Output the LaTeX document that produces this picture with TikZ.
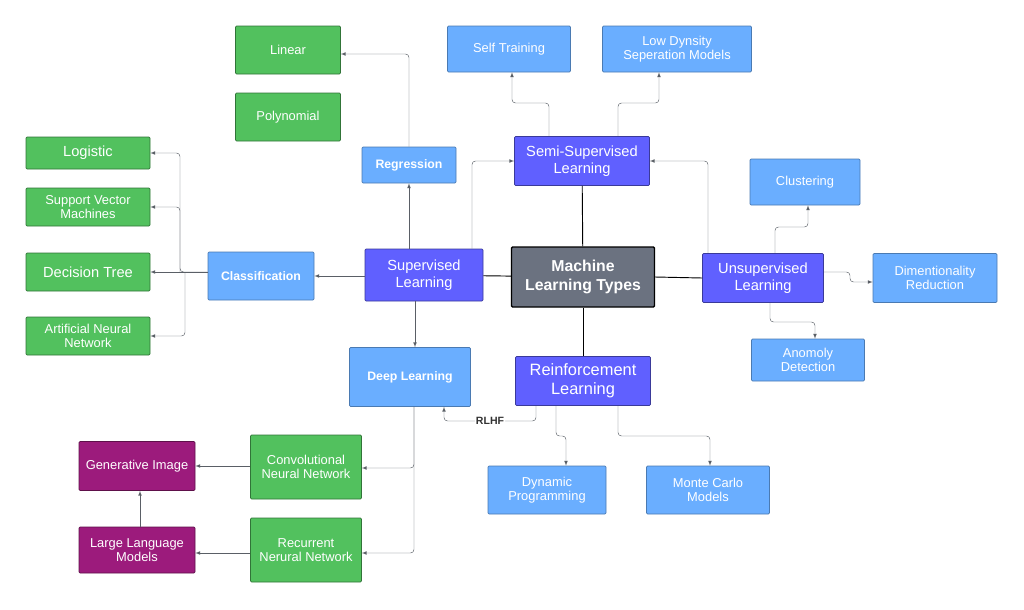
\documentclass[tikz,border=0pt]{standalone}
\usepackage{fontspec}
\setmainfont{Liberation Sans}
\usetikzlibrary{positioning}
\definecolor{leafgreen}{HTML}{52C15E}
\definecolor{leafblue}{HTML}{6AAEFF}
\definecolor{mainpurple}{HTML}{6060FF}
\definecolor{rootgray}{HTML}{6B7280}
\definecolor{genmagenta}{HTML}{9C1B7C}
\definecolor{linkgray}{HTML}{5A5F66}
\begin{document}
\begin{tikzpicture}[x=0.03cm, y=-0.03cm, -latex, semithick,
            box/.style ={rectangle, rounded corners=1pt, align=center, text=white, inner sep=1pt},
            leaf/.style ={box, fill=leafgreen, draw=leafgreen!60!black, font=\fontsize{11}{12.5}\selectfont},
            sub/.style ={box, fill=leafblue, draw=leafblue!70!black, font=\fontsize{11}{12.5}\selectfont},
            subb/.style ={sub, font=\bfseries\fontsize{10.5}{12.5}\selectfont},
            main/.style ={box, fill=mainpurple, draw=mainpurple!60!black, font=\fontsize{12.5}{14.5}\selectfont},
            gen/.style ={box, fill=genmagenta, draw=genmagenta!60!black, font=\fontsize{11}{12.5}\selectfont},
            link/.style ={draw=linkgray, thin, rounded corners=3pt},
            trunk/.style ={-, draw=black, thick}]
        \useasboundingbox (0,0) rectangle (1024,610);

        %root
        \node[box, fill=rootgray, draw=black, very thick, font=\bfseries\fontsize{13.5}{16}\selectfont,
              minimum width=143*0.03cm, minimum height=60*0.03cm] (ml) at (583,277) {Machine\\Learning Types};

        %main types
        \node[main, minimum width=118*0.03cm, minimum height=52*0.03cm] (sup) at (424,275) {Supervised\\Learning};
        \node[main, minimum width=135*0.03cm, minimum height=49*0.03cm] (semi) at (582,161) {Semi-Supervised\\Learning};
        \node[main, minimum width=135*0.03cm, minimum height=49*0.03cm, font=\fontsize{14}{16}\selectfont] (rl) at (583,381) {Reinforcement\\Learning};
        \node[main, minimum width=121*0.03cm, minimum height=49*0.03cm] (unsup) at (763,278) {Unsupervised\\Learning};

        %supervised side
        \node[subb, minimum width=94*0.03cm, minimum height=36*0.03cm] (reg) at (409,165) {Regression};
        \node[subb, minimum width=106*0.03cm, minimum height=48*0.03cm] (cls) at (261,276) {Classification};
        \node[subb, minimum width=121*0.03cm, minimum height=59*0.03cm] (dl) at (410,377) {Deep Learning};
        \node[leaf, minimum width=105*0.03cm, minimum height=48*0.03cm] (lin) at (288,50) {Linear};
        \node[leaf, minimum width=105*0.03cm, minimum height=48*0.03cm] (poly) at (288,117) {Polynomial};
        \node[leaf, minimum width=124*0.03cm, minimum height=32*0.03cm, font=\fontsize{12.5}{14}\selectfont] (logi) at (88,153) {Logistic};
        \node[leaf, minimum width=124*0.03cm, minimum height=38*0.03cm] (svm) at (88,207) {Support Vector\\Machines};
        \node[leaf, minimum width=124*0.03cm, minimum height=38*0.03cm, font=\fontsize{12.5}{14}\selectfont] (dt) at (88,272) {Decision Tree};
        \node[leaf, minimum width=124*0.03cm, minimum height=38*0.03cm] (ann) at (88,336) {Artificial Neural\\Network};
        \node[leaf, minimum width=111*0.03cm, minimum height=64*0.03cm] (cnn) at (306,467) {Convolutional\\Neural Network};
        \node[leaf, minimum width=111*0.03cm, minimum height=64*0.03cm] (rnn) at (306,550) {Recurrent\\Nerural Network};
        \node[gen, minimum width=116*0.03cm, minimum height=49*0.03cm] (gimg) at (137,466) {Generative Image};
        \node[gen, minimum width=116*0.03cm, minimum height=46*0.03cm] (llm) at (137,550) {Large Language\\Models};

        %semi and unsupervised side
        \node[sub, minimum width=123*0.03cm, minimum height=46*0.03cm] (self) at (509,49) {Self Training};
        \node[sub, minimum width=149*0.03cm, minimum height=46*0.03cm] (low) at (677,49) {Low Dynsity\\Seperation Models};
        \node[sub, minimum width=110*0.03cm, minimum height=46*0.03cm] (clu) at (805,182) {Clustering};
        \node[sub, minimum width=124*0.03cm, minimum height=49*0.03cm] (dim) at (935,278) {Dimentionality\\Reduction};
        \node[sub, minimum width=113*0.03cm, minimum height=42*0.03cm] (ano) at (808,360) {Anomoly\\Detection};
        \node[sub, minimum width=118*0.03cm, minimum height=48*0.03cm] (dp) at (547,490) {Dynamic\\Programming};
        \node[sub, minimum width=123*0.03cm, minimum height=48*0.03cm] (mc) at (708,490) {Monte Carlo\\Models};

        %trunk lines
        \draw[trunk] (ml) -- (sup);
        \draw[trunk] (ml) -- (semi);
        \draw[trunk] (ml) -- (rl);
        \draw[trunk] (ml.east) -- (unsup.west);

        %supervised branches
        \draw[link] (sup.north -| reg) -- (reg);
        \draw[link] (reg.north) |- (lin.east |- 0,54);
        \draw[link] (sup.north -| 472,0) |- (semi.west);
        \draw[link] (sup.west |- cls) -- (cls.east);
        \draw[link] (sup.south -| 415,0) -- (dl.north -| 415,0);
        \coordinate (cfork) at (180,272);
        \draw[link] (cls.west |- cfork) -- (cfork) |- (logi.east);
        \draw[link] (cfork) |- (svm.east);
        \draw[link] (cls.west |- dt) -- (dt.east);
        \draw[link] (185,272) |- (ann.east);

        %deep learning branches
        \draw[link] (dl.south -| 414,0) |- (cnn.east |- 0,468);
        \draw[link] (dl.south -| 414,0) |- (rnn.east |- 0,553);
        \draw[link] (cnn.west |- gimg) -- (gimg.east);
        \draw[link] (rnn.west |- 0,553) -- (llm.east |- 0,553);
        \draw[link] (llm.north -| 140,0) -- (gimg.south -| 140,0);

        %semi, unsupervised and reinforcement branches
        \draw[link] (semi.north -| 549,0) |- (512,103) -- (self.south -| 512,0);
        \draw[link] (semi.north -| 618,0) |- (659,103) -- (low.south -| 659,0);
        \draw[link] (unsup.north -| 708,0) |- (semi.east);
        \draw[link] (unsup.north -| 775,0) |- (808,227) -- (clu.south -| 808,0);
        \draw[link] (unsup.east |- 0,272) -| (850,282) -- (dim.west |- 0,282);
        \draw[link] (unsup.south -| 770,0) |- (815,322) -- (ano.north -| 815,0);
        \draw[link] (rl.south -| 536,0) |- (444,421) node[pos=0.75, fill=white, inner sep=1pt, text=black!80, font=\bfseries\fontsize{9}{10}\selectfont] {RLHF} -- (dl.south -| 444,0);
        \draw[link] (rl.south -| 556,0) |- (566,436) -- (dp.north -| 566,0);
        \draw[link] (rl.south -| 618,0) |- (710,436) -- (mc.north -| 710,0);
    \end{tikzpicture}
\end{document}
